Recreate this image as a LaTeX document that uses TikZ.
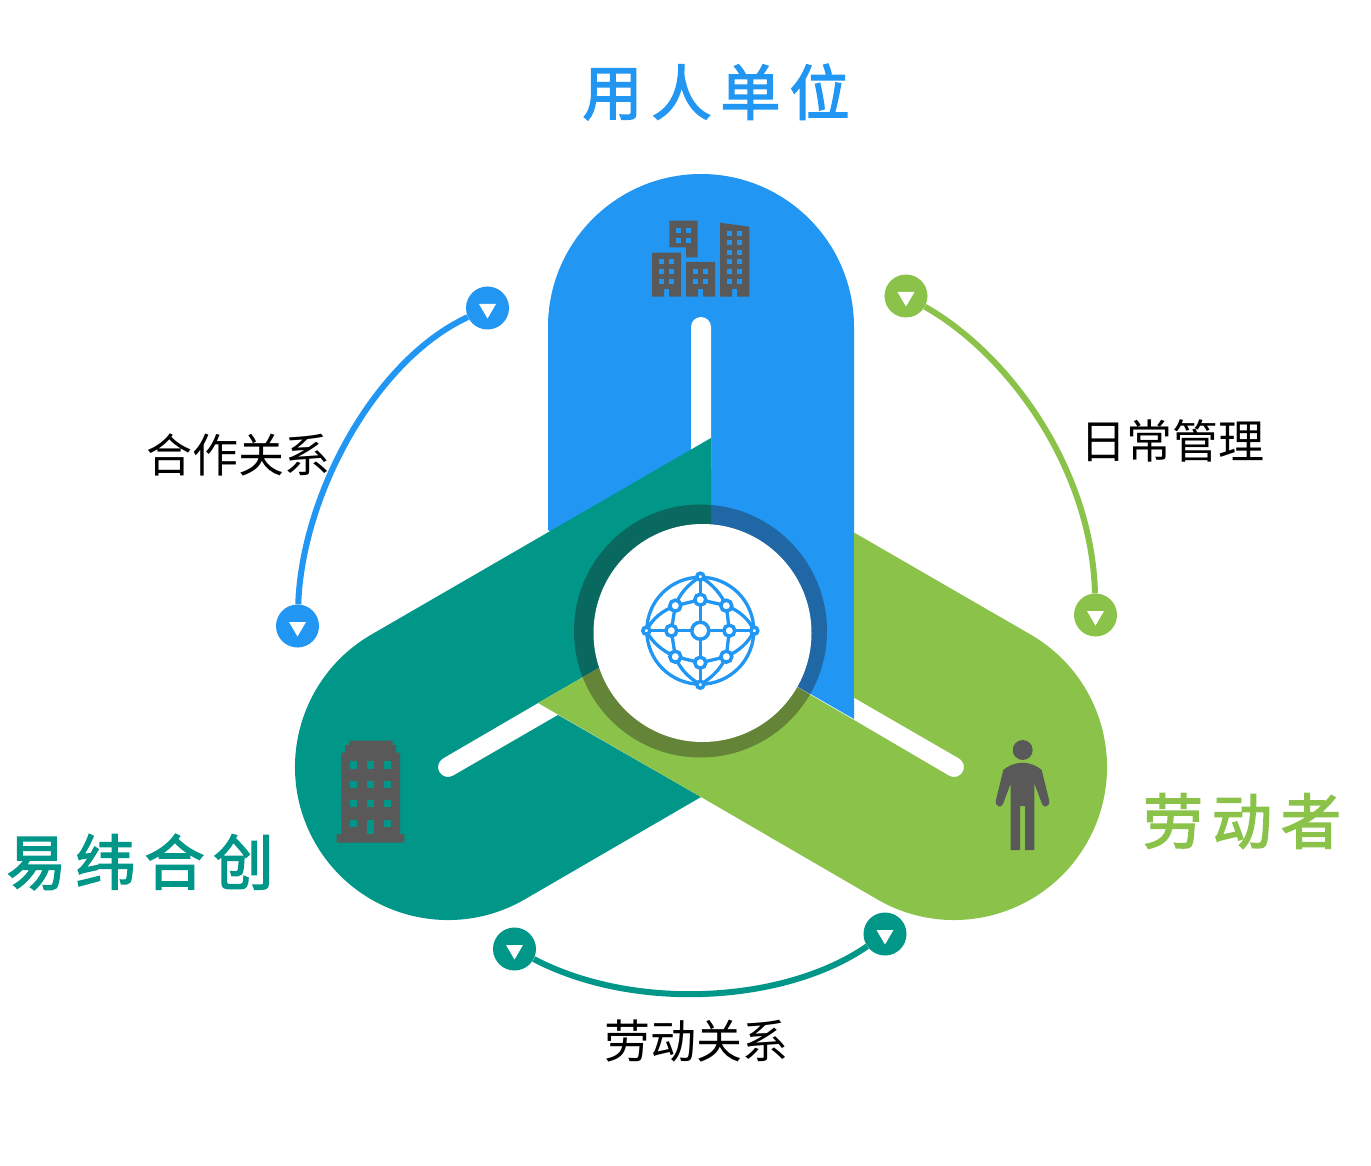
\documentclass[tikz,border=0pt]{standalone}
\usepackage{fontspec}
\setmainfont{Noto Sans CJK SC}
\newfontfamily\titlefont[LetterSpace=15,FakeBold=2.5]{Noto Sans CJK SC}
\definecolor{cblue}{HTML}{2196F3}
\definecolor{cteal}{HTML}{009688}
\definecolor{cgreen}{HTML}{8BC34A}
\definecolor{cicon}{HTML}{595959}
\definecolor{cring}{HTML}{1C1414}
\tikzset{
  dot/.style={circle,minimum size=43pt,inner sep=0pt,fill=#1},
  link/.style={line width=6pt,draw=#1},
  titletext/.style={inner sep=0pt,text=#1,font=\titlefont\fontsize{60}{60}\selectfont},
  labeltext/.style={inner sep=0pt,text=black,font=\fontsize{46}{46}\selectfont},
  gline/.style={draw=cblue,line width=3.3pt},
  gnode/.style={draw=cblue,fill=white,line width=3.5pt}
}
\newcommand{\downtri}[1]{\fill[white] ($(#1)+(-8.5,-4)$) -- ($(#1)+(8.5,-4)$) -- ($(#1)+(0,10.5)$) -- cycle;}
\usetikzlibrary{calc}
\begin{document}
\begin{tikzpicture}[x=1pt,y=1pt,yscale=-1]
\useasboundingbox (0,0) rectangle (1371,1166);
\fill[white] (0,0) rectangle (1371,1166);
% blue arm
\fill[cblue] (548,530) -- (548,327) arc[start angle=180,end angle=360,radius=153pt] -- (854,719) -- (701,631) -- cycle;
\fill[white] (691,470) -- (691,327) arc[start angle=180,end angle=360,radius=10pt] -- (711,470) -- cycle;
% teal arm
\fill[cteal] (711,438) -- (371.5,634.5) arc[start angle=240,end angle=60,radius=153pt] -- (701,797) -- (558,715) -- (453,775.7) arc[start angle=60,end angle=240,radius=10pt] -- (538,703) -- (711,603) -- cycle;
% green arm
\fill[cgreen] (538,703) -- (700,610) -- (700,631) -- (854,720) -- (949,775.7) arc[start angle=120,end angle=-60,radius=10pt] -- (854,697.7) -- (854,532.5) -- (1030.5,634.5) arc[start angle=-60,end angle=120,radius=153pt] -- (701,797) -- cycle;
% ring
\fill[cring,opacity=0.35] (700.5,631) circle[radius=126.5pt];
\fill[white] (702.5,633) circle[radius=109pt];
% globe
\begin{scope}[shift={(700.3,630.7)}]
  \draw[gline] (0,0) circle[radius=53.5pt];
  \draw[gline] (0,-54) -- (0,54) (-54,0) -- (54,0);
  \draw[gline] (0,-31) -- (26,-25) -- (29,0) -- (26,26) -- (0,32) -- (-25,26) -- (-29,0) -- (-25,-25) -- cycle;
  \draw[gline] (0,-54) .. controls (-13,-46) and (-21,-36) .. (-25,-25);
  \draw[gline] (0,-54) .. controls (13,-46) and (21,-36) .. (26,-25);
  \draw[gline] (0,54) .. controls (-13,46) and (-21,37) .. (-25,26);
  \draw[gline] (0,54) .. controls (13,46) and (21,37) .. (26,26);
  \draw[gline] (-54,0) .. controls (-48,-12) and (-38,-20) .. (-25,-25);
  \draw[gline] (54,0) .. controls (48,-12) and (39,-20) .. (26,-25);
  \draw[gline] (-54,0) .. controls (-48,12) and (-38,20) .. (-25,26);
  \draw[gline] (54,0) .. controls (48,12) and (39,20) .. (26,26);
  \foreach \p in {(0,-31),(26,-25),(29,0),(26,26),(0,32),(-25,26),(-29,0),(-25,-25)}
    \draw[gnode] \p circle[radius=5.5pt];
  \foreach \p in {(0,-54),(54,0),(0,54),(-54,0)}
    \draw[gnode] \p circle[radius=3.5pt];
  \draw[gnode] (0,0) circle[radius=8.5pt];
\end{scope}
% buildings on blue arm
\fill[cicon] (669.3,220.7) -- (697.7,220.7) -- (697.7,257.3) -- (686,257.3) -- (686,247.3) -- (669.3,247.3) -- cycle;
\fill[cicon] (652,252.7) -- (681,252.7) -- (681,296.7) -- (669,296.7) -- (669,289) -- (664,289) -- (664,296.7) -- (652,296.7) -- cycle;
\fill[cicon] (686,262) -- (715,262) -- (715,296.7) -- (703,296.7) -- (703,289) -- (698,289) -- (698,296.7) -- (686,296.7) -- cycle;
\fill[cicon] (720,222.7) -- (749.3,226.7) -- (749.3,296.7) -- (737,296.7) -- (737,289) -- (732,289) -- (732,296.7) -- (720,296.7) -- cycle;
\foreach \wx/\wy in {676/228,686/228,676/237.7,686/237.7,
  659/259.3,669/259.3,659/269.3,669/269.3,659/279,669/279,
  693/269.3,703/269.3,693/279,703/279,
  727.3/231.3,737/231.3,727.3/240.5,737/240.5,727.3/250,737/250,727.3/259.3,737/259.3,727.3/269.3,737/269.3,727.3/279,737/279}
  \fill[cblue] (\wx,\wy) rectangle ++(5,5);
% building on teal arm
\fill[cicon] (336.7,842.7) -- (336.7,834) -- (341.3,834) -- (341.3,752.7) -- (345,752.7) -- (345,745) -- (349,745) -- (349,740.7) -- (392.7,740.7) -- (392.7,745) -- (396,745) -- (396,752.7) -- (400,752.7) -- (400,834) -- (404.3,834) -- (404.3,842.7) -- cycle;
\foreach \wx in {349.7,367,384}
  \foreach \wy in {761.3,780.7,800}
    \fill[cteal] (\wx,\wy) rectangle ++(7.2,7.3);
\fill[cteal] (349.7,819.7) rectangle ++(7.2,7.3);
\fill[cteal] (367,819.7) rectangle ++(7.2,14);
\fill[cteal] (384,819.7) rectangle ++(7.2,7.3);
% person on green arm
\fill[cicon] (1022.7,750) circle[radius=10pt];
\fill[cicon] (1022.7,762.7) .. controls (1014,763) and (1008,766) .. (1003.3,770)
  -- (995.7,801) .. controls (995,806) and (1001,809) .. (1003,804)
  -- (1010.7,783.3) -- (1010.7,850) -- (1020,850) -- (1020,806) -- (1025,806) -- (1025,850) -- (1034.3,850) -- (1034.3,783.3)
  -- (1042,804) .. controls (1044,809) and (1050,806) .. (1049.3,801)
  -- (1041.7,770) .. controls (1037,766) and (1031,763) .. (1022.7,762.7) -- cycle;
% relation connectors
\node[dot=cblue] (bt) at (487.5,308) {};
\node[dot=cblue] (bb) at (297.5,626) {};
\node[dot=cgreen] (gt) at (906,296) {};
\node[dot=cgreen] (gb) at (1095.5,615) {};
\node[dot=cteal] (tl) at (514.5,949) {};
\node[dot=cteal] (tr) at (885,934) {};
\draw[link=cblue] (bb) .. controls (302,495) and (375,360) .. (bt);
\draw[link=cgreen] (gt) .. controls (1010,355) and (1092,470) .. (gb);
\draw[link=cteal] (tl) .. controls (635,1012) and (785,1003) .. (tr);
\downtri{bt}\downtri{bb}\downtri{gt}\downtri{gb}\downtri{tl}\downtri{tr}
% texts
\node[titletext=cblue] (t1) at (716,92) {用人单位};
\node[titletext=cteal] (t2) at (140,862) {易纬合创};
\node[titletext=cgreen] (t3) at (1242,821) {劳动者};
\node[labeltext] (l1) at (238,455) {合作关系};
\node[labeltext] (l2) at (1172,441) {日常管理};
\node[labeltext] (l3) at (696,1041) {劳动关系};
\end{tikzpicture}
\end{document}
